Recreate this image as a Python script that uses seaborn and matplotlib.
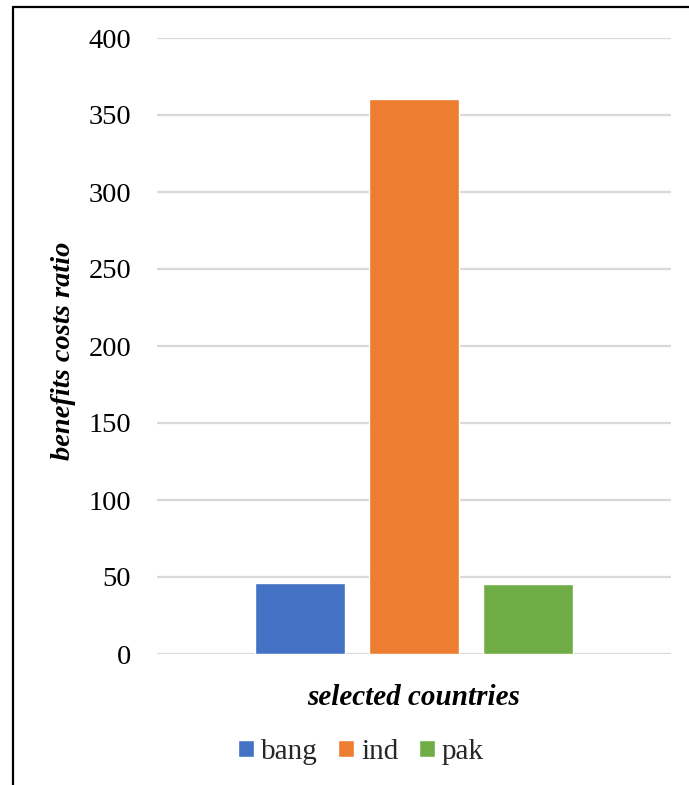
import matplotlib
matplotlib.use("Agg")
import matplotlib.pyplot as plt
from matplotlib.lines import Line2D
import pandas as pd
import seaborn as sns

# Benefit-cost ratios by country
countries = ["bang", "ind", "pak"]
ratios = [46, 360.5, 45.5]
colors = ["#4472C4", "#ED7D31", "#70AD47"]
yticks = [0, 50, 100, 150, 200, 250, 300, 350, 400]

df = pd.DataFrame({"group": [""] * len(countries), "country": countries, "ratio": ratios})

sns.set_theme(style="white")
plt.rcParams["font.family"] = ["Liberation Serif", "DejaVu Serif"]

W, H = 689, 785
fig = plt.figure(figsize=(W / 100, H / 100), dpi=100)
ax = fig.add_axes([157 / W, 1 - 654 / H, 514 / W, 616 / H])

sns.barplot(data=df, x="group", y="ratio", hue="country", hue_order=countries,
            palette=colors, width=0.666, gap=0.21, saturation=1, ax=ax, errorbar=None)

ax.set_ylim(0, 400)
ax.set_yticks(yticks)
ax.set_yticklabels([str(t) for t in yticks], fontsize=20.5, color="#000000")
ax.tick_params(axis="y", length=0, pad=18.5)
ax.set_xticks([])
ax.yaxis.grid(True, color="#D9D9D9", linewidth=1.6)
ax.set_axisbelow(True)
for s in ax.spines.values():
    s.set_visible(False)

ax.set_ylabel("benefits costs ratio", fontsize=20.5, fontweight="bold", fontstyle="italic",
              color="#000000", va="center")
ax.yaxis.set_label_coords(-0.181, 0.492)
ax.set_xlabel("selected countries", fontsize=21, fontweight="bold", fontstyle="italic",
              color="#000000", va="center")
ax.xaxis.set_label_coords(0.5, -0.07)

handles, labels = ax.get_legend_handles_labels()
ax.get_legend().remove()
fig.legend(handles, labels, loc="center", bbox_to_anchor=(361 / W, 1 - 752 / H), ncol=3,
           frameon=False, fontsize=21, handlelength=0.54, handleheight=0.54,
           handletextpad=0.25, columnspacing=0.7, borderpad=0)

# Chart area outline (left and top edges)
fig.add_artist(Line2D([13 / W, 13 / W], [0, 1 - 7 / H], transform=fig.transFigure,
                      color="black", linewidth=1.6))
fig.add_artist(Line2D([13 / W, 1], [1 - 7 / H, 1 - 7 / H], transform=fig.transFigure,
                      color="black", linewidth=1.6))

fig.savefig("out.png", dpi=100)
